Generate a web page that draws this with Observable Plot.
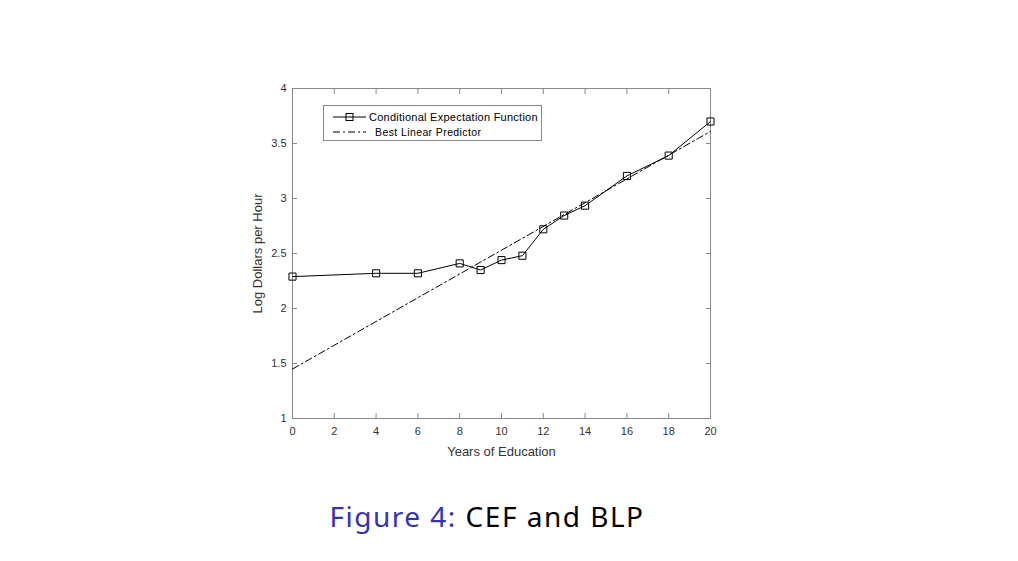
<!DOCTYPE html>
<html>
<head>
<meta charset="utf-8">
<script src="https://cdn.jsdelivr.net/npm/d3@7"></script>
<script src="https://cdn.jsdelivr.net/npm/@observablehq/plot@0.6"></script>
<style>
  html, body { margin: 0; padding: 0; background: #fff; }
  #wrap { position: relative; width: 1018px; height: 561px; overflow: hidden; }
  #legend { position: absolute; left: 323px; top: 105px; }
  #caption { position: absolute; left: 0; width: 974px; top: 497px; text-align: center;
    font-family: "Noto Sans", "DejaVu Sans", sans-serif; font-size: 28px; letter-spacing: 1.5px; color: #000; }
  #caption .fig { color: #3333b3; }
</style>
</head>
<body>
<div id="wrap">
  <div id="chart"></div>
  <svg id="legend" width="219" height="36" font-family="Liberation Sans, Arial, sans-serif" font-size="11">
    <rect x="0.5" y="0.5" width="218" height="35" fill="#fff" stroke="#888"></rect>
    <line x1="10" x2="43" y1="12" y2="12" stroke="#000" stroke-width="1"></line>
    <rect x="23" y="8.5" width="7" height="7" fill="none" stroke="#000"></rect>
    <text x="46" y="16" fill="#000" letter-spacing="0.25">Conditional Expectation Function</text>
    <line x1="10" x2="43" y1="27" y2="27" stroke="#000" stroke-width="1" stroke-dasharray="7,3,2,3"></line>
    <text x="52" y="31" fill="#000" font-size="10.5" letter-spacing="0.4">Best Linear Predictor</text>
  </svg>
  <div id="caption"><span class="fig">Figure 4:</span> CEF and BLP</div>
</div>
<script>
const years = [0, 4, 6, 8, 9, 10, 11, 12, 13, 14, 16, 18, 20];
const cef = [2.29, 2.32, 2.32, 2.41, 2.35, 2.44, 2.48, 2.72, 2.845, 2.935, 3.205, 3.39, 3.70];
const blpYears = [0, 20];
const blp = [1.45, 3.61];
const xTicks = [0, 2, 4, 6, 8, 10, 12, 14, 16, 18, 20];
const yTicks = [1, 1.5, 2, 2.5, 3, 3.5, 4];

const cefData = years.map((x, i) => ({x, y: cef[i]}));
const blpData = blpYears.map((x, i) => ({x, y: blp[i]}));

const chart = Plot.plot({
  width: 1018,
  height: 480,
  marginLeft: 292,
  marginRight: 308,
  marginTop: 88,
  marginBottom: 62,
  x: {domain: [0, 20]},
  y: {domain: [1, 4]},
  style: {fontFamily: "Liberation Sans, Arial, sans-serif", fontSize: "11px", color: "#333", background: "transparent"},
  marks: [
    Plot.frame({stroke: "#888"}),
    Plot.axisX(xTicks, {anchor: "bottom", tickSize: 0, tickPadding: 9, fill: "#333", label: null, tickFormat: d => String(d)}),
    Plot.axisX(xTicks, {anchor: "bottom", tickSize: -5, stroke: "#888", tickFormat: () => "", label: null}),
    Plot.axisX(xTicks, {anchor: "top", tickSize: -5, stroke: "#888", tickFormat: () => "", label: null}),
    Plot.axisY(yTicks, {anchor: "left", tickSize: 0, tickPadding: 6, fill: "#333", label: null, tickFormat: d => String(d)}),
    Plot.axisY(yTicks, {anchor: "left", tickSize: -5, stroke: "#888", tickFormat: () => "", label: null}),
    Plot.axisY(yTicks, {anchor: "right", tickSize: -5, stroke: "#888", tickFormat: () => "", label: null}),
    Plot.text(["Years of Education"], {frameAnchor: "bottom", dy: 37, fontSize: 13, fill: "#333"}),
    Plot.text(["Log Dollars per Hour"], {frameAnchor: "left", textAnchor: "middle", dx: -35, rotate: -90, fontSize: 13, fill: "#333"}),
    Plot.line(blpData, {x: "x", y: "y", stroke: "#000", strokeWidth: 1, strokeDasharray: "7,3,2,3"}),
    Plot.line(cefData, {x: "x", y: "y", stroke: "#000", strokeWidth: 1}),
    Plot.dot(cefData, {x: "x", y: "y", symbol: "square", r: 4, stroke: "#000", fill: "none", strokeWidth: 1})
  ]
});
document.getElementById("chart").appendChild(chart);
</script>
</body>
</html>
